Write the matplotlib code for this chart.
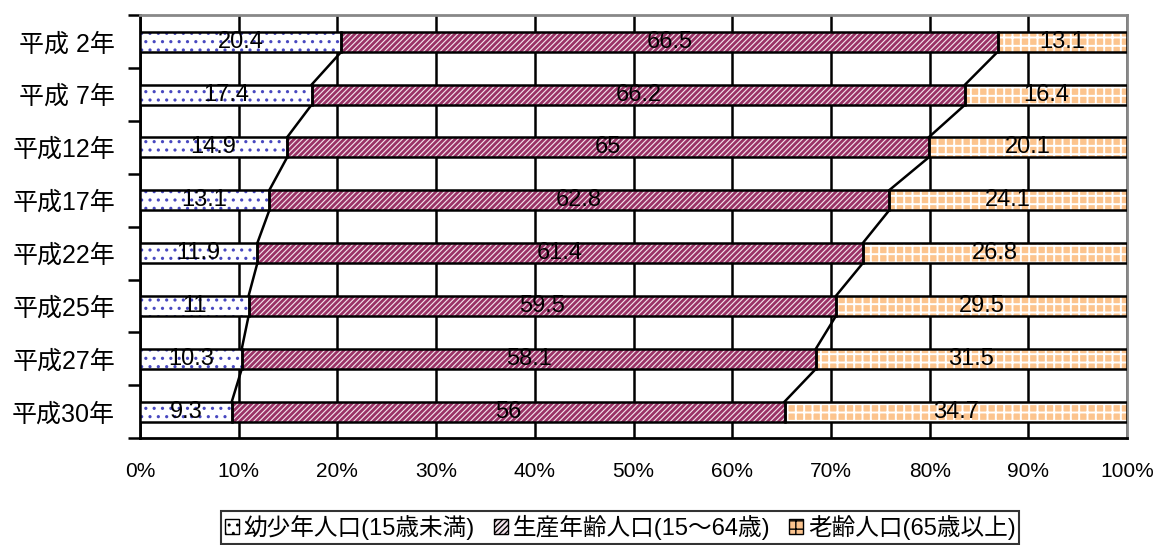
import numpy as np
import matplotlib.pyplot as plt
from matplotlib.patches import Patch

plt.rcParams['font.family'] = ['Liberation Sans', 'Noto Sans CJK JP', 'DejaVu Sans']

years = ["平成 2年", "平成 7年", "平成12年", "平成17年", "平成22年", "平成25年", "平成27年", "平成30年"]
young = [20.4, 17.4, 14.9, 13.1, 11.9, 11, 10.3, 9.3]
working = [66.5, 66.2, 65, 62.8, 61.4, 59.5, 58.1, 56]
old = [13.1, 16.4, 20.1, 24.1, 26.8, 29.5, 31.5, 34.7]
names = ["幼少年人口(15歳未満)", "生産年齢人口(15～64歳)", "老齢人口(65歳以上)"]

data = np.array([young, working, old])
pct = data / data.sum(axis=0) * 100
left = np.vstack([np.zeros(len(years)), np.cumsum(pct, axis=0)[:-1]])

# fill colour, hatch, hatch colour, hatch width
styles = [("white", "..", "#4848c0", 1.1),
          ("#f4e4ec", "//////", "#993366", 2.0),
          ("#fcc48e", "++", "white", 1.4)]

fig = plt.figure(figsize=(11.55, 5.45), dpi=100)
ax = fig.add_axes([0.1212, 0.196, 0.8546, 0.776])

y = np.arange(len(years))
h = 0.38
for k in range(3):
    fc, hatch, hc, hw = styles[k]
    with plt.rc_context({'hatch.linewidth': hw}):
        ax.barh(y, pct[k], left=left[k], height=h, color=fc, hatch=hatch,
                edgecolor=hc, linewidth=0, zorder=3)
    ax.barh(y, pct[k], left=left[k], height=h, fill=False,
            edgecolor="black", linewidth=1.8, zorder=4)
    for i in range(len(years)):
        ax.text(left[k][i] + pct[k][i] / 2, y[i], f"{data[k][i]:g}",
                ha="center", va="center", fontsize=17, zorder=5)

# connecting lines between bars
cum = np.cumsum(pct, axis=0)
for k in range(2):
    for i in range(len(years) - 1):
        ax.plot([cum[k][i], cum[k][i + 1]], [y[i] + h / 2, y[i + 1] - h / 2],
                color="black", lw=1.8, zorder=2)

ax.set_xlim(0, 100)
ax.set_ylim(len(years) - 0.5, -0.5)
ax.set_xticks(np.arange(0, 101, 10))
ax.set_xticklabels([f"{v}%" for v in range(0, 101, 10)], fontsize=15)
ax.set_yticks(y)
ax.set_yticklabels(years, fontsize=18)
ax.set_yticks(np.arange(-0.5, len(years)), minor=True)
ax.tick_params(axis="y", which="major", length=0, pad=18)
ax.tick_params(axis="y", which="minor", length=9, width=1.8, color="black")
ax.tick_params(axis="x", length=0, pad=17)
ax.grid(axis="x", color="black", lw=1.8, zorder=1)
ax.set_axisbelow(True)
for s in ["left", "bottom"]:
    ax.spines[s].set_color("black")
    ax.spines[s].set_linewidth(2)
for s in ["top", "right"]:
    ax.spines[s].set_color("#888888")
    ax.spines[s].set_linewidth(2)

handles = [Patch(facecolor=styles[k][0], hatch=styles[k][1], edgecolor="black",
                 linewidth=1) for k in range(3)]
leg = fig.legend(handles, names, loc="center", bbox_to_anchor=(0.537, 0.032),
                 ncol=3, fontsize=17, frameon=True, fancybox=False,
                 handlelength=0.6, handleheight=0.6, handletextpad=0.2,
                 columnspacing=0.8, borderpad=0.15, borderaxespad=0)
leg.get_frame().set_edgecolor("black")
leg.get_frame().set_linewidth(1.5)

plt.savefig("out.png")
